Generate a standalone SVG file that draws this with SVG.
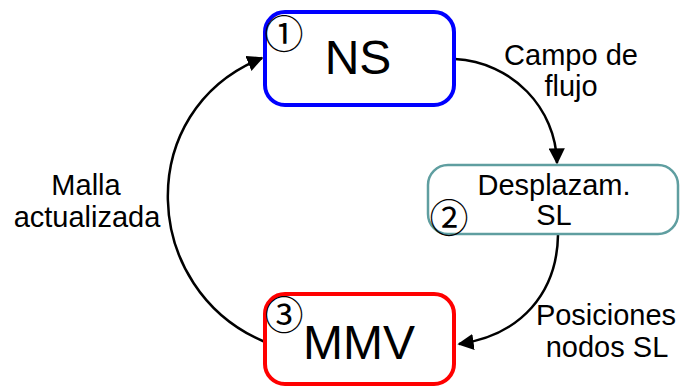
<svg xmlns="http://www.w3.org/2000/svg" width="680" height="387" viewBox="0 0 680 387">
  <style>
    .lbl { font-family: "Liberation Sans", Arial, sans-serif; font-size: 29px; fill: #000; text-anchor: middle; }
    .big { font-family: "Liberation Sans", Arial, sans-serif; font-size: 48px; fill: #000; text-anchor: middle; }
    .num { font-family: "Noto Sans CJK JP", "DejaVu Sans", sans-serif; font-size: 39px; fill: #000; text-anchor: middle; }
    .box { fill: #fff; }
    .edge { fill: none; stroke: #000; stroke-width: 2.5; marker-end: url(#arrow); }
  </style>
  <defs>
    <marker id="arrow" viewBox="0 0 10 10" refX="9" refY="5" markerWidth="6.5" markerHeight="6.5" markerUnits="strokeWidth" orient="auto">
      <path d="M0,0 L10,5 L0,10 z" fill="#000"/>
    </marker>
  </defs>

  <!-- connectors -->
  <g id="connectors">
    <path class="edge" d="M455,59 C512,62 556,108 557,163"/>
    <path class="edge" d="M558,235 C557,292 522,335 459,344"/>
    <path class="edge" d="M265,342 C140,290 132,110 262,58"/>
    <text class="lbl" x="571" y="65">Campo de</text>
    <text class="lbl" x="571" y="96">flujo</text>
    <text class="lbl" x="606" y="325">Posiciones</text>
    <text class="lbl" x="607" y="357">nodos SL</text>
    <text class="lbl" x="86" y="195">Malla</text>
    <text class="lbl" x="87" y="227">actualizada</text>
  </g>

  <!-- step 1: flow solver -->
  <g id="ns">
    <rect class="box" x="265" y="12" width="189" height="93" rx="20" stroke="#0000ff" stroke-width="4"/>
    <text class="big" x="358" y="74">NS</text>
    <text class="num" x="284" y="48">①</text>
  </g>

  <!-- step 2: free-surface displacement -->
  <g id="desplazam">
    <rect class="box" x="428" y="165" width="250" height="69" rx="20" stroke="#5f9ea0" stroke-width="2.5"/>
    <text class="lbl" x="554" y="195">Desplazam.</text>
    <text class="lbl" x="554" y="225">SL</text>
    <text class="num" x="449" y="232">②</text>
  </g>

  <!-- step 3: mesh motion -->
  <g id="mmv">
    <rect class="box" x="265" y="294" width="189" height="90" rx="20" stroke="#ff0000" stroke-width="4"/>
    <text class="big" x="359" y="359">MMV</text>
    <text class="num" x="284" y="329">③</text>
  </g>
</svg>
